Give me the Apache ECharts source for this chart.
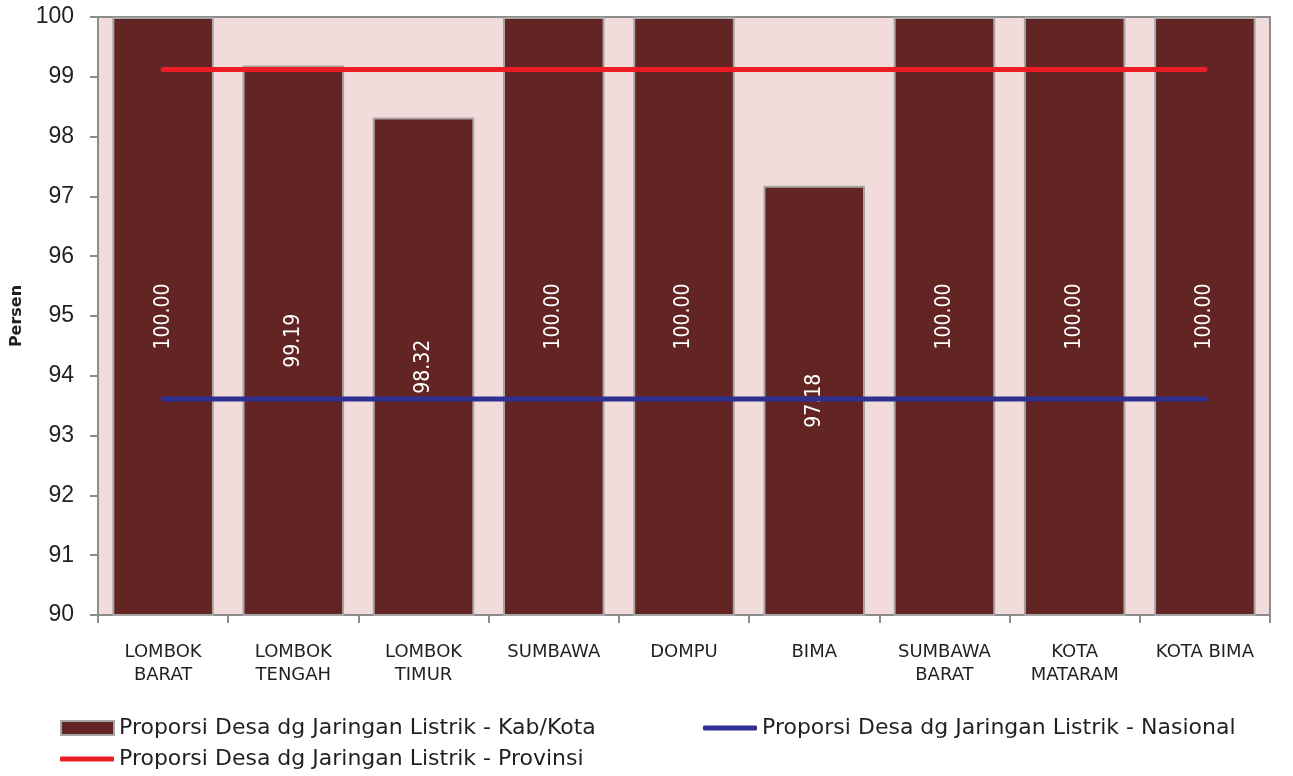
<!DOCTYPE html>
<html>
<head>
<meta charset="utf-8">
<script src="https://cdn.jsdelivr.net/npm/echarts@6/dist/echarts.min.js"></script>
<style>
  html, body { margin: 0; padding: 0; background: #fff; }
  #chart { width: 1293px; height: 776px; }
</style>
</head>
<body>
<div id="chart"></div>
<script>
  // data
  var categories = ['LOMBOK\nBARAT', 'LOMBOK\nTENGAH', 'LOMBOK\nTIMUR', 'SUMBAWA', 'DOMPU', 'BIMA', 'SUMBAWA\nBARAT', 'KOTA\nMATARAM', 'KOTA BIMA']
  var kabKota = [100.00, 99.19, 98.32, 100.00, 100.00, 97.18, 100.00, 100.00, 100.00]
  var provinsi = [99.12, 99.12, 99.12, 99.12, 99.12, 99.12, 99.12, 99.12, 99.12]
  var nasional = [93.61, 93.61, 93.61, 93.61, 93.61, 93.61, 93.61, 93.61, 93.61]

  var nameBar = 'Proporsi Desa dg Jaringan Listrik - Kab/Kota'
  var nameProv = 'Proporsi Desa dg Jaringan Listrik - Provinsi'
  var nameNas = 'Proporsi Desa dg Jaringan Listrik - Nasional'

  var font = 'DejaVu Sans'
  var chart = echarts.init(document.getElementById('chart'))

  var legendText = { fontFamily: font, fontSize: 22, color: '#231f20' }

  chart.setOption({
    animation: false,
    grid: {
      left: 98, right: 23, top: 17, bottom: 161,
      show: true,
      backgroundColor: '#f2dcdb',
      borderColor: '#8c8c8c',
      borderWidth: 2
    },
    legend: [
      {
        data: [{ name: nameBar, icon: 'rect' }], left: 60, top: 717, itemWidth: 53, itemHeight: 14, itemGap: 4,
        textStyle: legendText, padding: 0
      },
      {
        data: [{ name: nameNas, icon: 'roundRect' }], left: 703, top: 717, itemWidth: 54, itemHeight: 5, itemGap: 4,
        textStyle: legendText, padding: 0
      },
      {
        data: [{ name: nameProv, icon: 'roundRect' }], left: 60, top: 748, itemWidth: 54, itemHeight: 5, itemGap: 4,
        textStyle: legendText, padding: 0
      }
    ],
    xAxis: {
      type: 'category',
      data: categories,
      axisLine: { lineStyle: { color: '#8c8c8c', width: 2 } },
      axisTick: { show: true, length: 8, lineStyle: { color: '#8c8c8c', width: 2 } },
      axisLabel: { fontFamily: font, fontSize: 18, color: '#231f20', margin: 26, lineHeight: 23, interval: 0 }
    },
    yAxis: {
      type: 'value',
      min: 90, max: 100, interval: 1,
      name: 'Persen',
      nameLocation: 'middle',
      nameGap: 70,
      nameTextStyle: { fontFamily: font, fontSize: 16, fontWeight: 'bold', color: '#231f20' },
      axisLine: { show: true, lineStyle: { color: '#8c8c8c', width: 2 } },
      axisTick: { show: true, length: 8, lineStyle: { color: '#8c8c8c', width: 2 } },
      splitLine: { show: false },
      axisLabel: { fontFamily: 'Liberation Sans', fontSize: 23, color: '#231f20', margin: 24 }
    },
    series: [
      {
        name: nameBar,
        type: 'bar',
        data: kabKota,
        barCategoryGap: '22%',
        itemStyle: { color: '#632523', borderColor: '#a6a6a6', borderWidth: 2 },
        label: {
          show: true,
          position: 'inside',
          rotate: 90,
          formatter: function (p) { return p.value.toFixed(2) },
          fontFamily: 'DejaVu Sans Condensed', fontSize: 21, color: '#ffffff'
        }
      },
      {
        name: nameProv,
        type: 'line',
        data: provinsi,
        symbol: 'none',
        itemStyle: { color: '#ee1c25' },
        lineStyle: { color: '#ee1c25', width: 5, cap: 'round' }
      },
      {
        name: nameNas,
        type: 'line',
        data: nasional,
        symbol: 'none',
        itemStyle: { color: '#2e3192' },
        lineStyle: { color: '#2e3192', width: 5, cap: 'round' }
      }
    ]
  })
</script>
</body>
</html>
